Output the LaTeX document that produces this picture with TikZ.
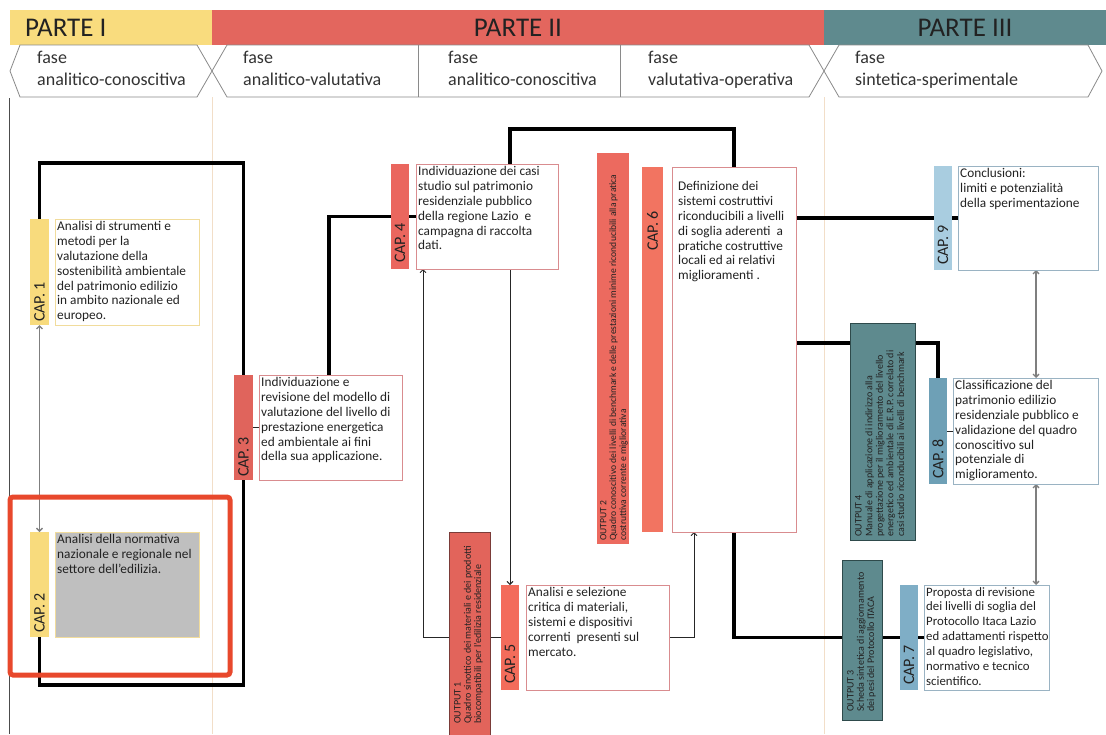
\documentclass[tikz,border=0pt]{standalone}
\usepackage{fontspec}
\setmainfont{Carlito}
\usetikzlibrary{arrows.meta}
\pgfdeclarelayer{bottom}
\pgfdeclarelayer{background}
\pgfsetlayers{bottom,background,main}
\definecolor{partey}{HTML}{F9DC7E}
\definecolor{parter}{HTML}{E3665E}
\definecolor{partet}{HTML}{5F8A8E}
\definecolor{capy}{HTML}{F8DB7D}
\definecolor{yborder}{HTML}{F1DC9C}
\definecolor{graybox}{HTML}{BFBFBF}
\definecolor{capthree}{HTML}{E0645C}
\definecolor{capfour}{HTML}{EA665E}
\definecolor{capfive}{HTML}{F36C5B}
\definecolor{capsix}{HTML}{F27461}
\definecolor{outtwo}{HTML}{EC6A5F}
\definecolor{outone}{HTML}{E2645B}
\definecolor{outoneb}{HTML}{7A3B38}
\definecolor{rborder}{HTML}{D98C8F}
\definecolor{capnine}{HTML}{A9CDE0}
\definecolor{capeight}{HTML}{6EA0B6}
\definecolor{capseven}{HTML}{7FAEC6}
\definecolor{bborder}{HTML}{9AB3C3}
\definecolor{outteal}{HTML}{5E8A8E}
\definecolor{outtealb}{HTML}{2E4A4B}
\definecolor{hexc}{HTML}{8A8A8A}
\definecolor{sepc}{HTML}{F2DEC8}
\definecolor{hl}{HTML}{E8482C}
\definecolor{txt}{HTML}{222222}
\definecolor{dblc}{HTML}{7F7F7F}
\begin{document}
\begin{tikzpicture}[x=1pt,y=-1pt,
  rect/.style={rectangle, inner sep=0pt, outer sep=0pt, anchor=north west},
  wh/.style 2 args={minimum width=#1pt, minimum height=#2pt},
  parttext/.style={font=\fontsize{27}{27}\selectfont, text=txt},
  phasetext/.style={anchor=north west, align=left, inner sep=0pt, font=\fontsize{18}{21.5}\selectfont, text=black!80},
  hex/.style={draw=hexc, line width=0.8pt, fill=white},
  sepline/.style={draw=sepc, line width=1pt},
  boxtext/.style={anchor=north west, align=left, inner sep=0pt, font=\fontsize{13.3}{14.9}\selectfont, text=txt},
  captext/.style={rotate=90, inner sep=0pt, font=\fontsize{16}{16}\selectfont, text=txt},
  outtext/.style={rotate=90, anchor=north west, align=left, inner sep=0pt, font=\fontsize{10}{10.2}\selectfont, text=txt},
  ybox/.style={rect, draw=yborder, line width=0.6pt, fill=white},
  rbox/.style={rect, draw=rborder, line width=0.8pt, fill=white},
  bbox/.style={rect, draw=bborder, line width=0.8pt, fill=white},
  thk/.style={line width=3.8pt, black},
  thn/.style={line width=0.9pt, black!85},
  arr/.style={-{Straight Barb[length=3pt,width=6pt]}},
  dbl/.style={draw=dblc, line width=1.3pt, {Straight Barb[length=3pt,width=6pt]}-{Straight Barb[length=3pt,width=6pt]}}
]
\useasboundingbox (0,0) rectangle (1106,734);
\begin{pgfonlayer}{bottom}
\fill[white] (0,0) rectangle (1106,734);
\end{pgfonlayer}

% ---------- header ----------
\node[rect, wh={202}{35}, fill=partey] (p1) at (10,10) {};
\node[parttext, anchor=west, inner sep=0pt] (p1t) at (25,28) {PARTE I};
\node[rect, wh={612}{35}, fill=parter, parttext] (p2) at (212,10) {PARTE II};
\node[rect, wh={282}{35}, fill=partet, parttext] (p3) at (824,10) {PARTE III};

\draw[hex] (10,71) -- (20,45) -- (197,45) -- (212,71) -- (197,97) -- (20,97) -- cycle;
\draw[hex] (212,71) -- (227,45) -- (809,45) -- (824,71) -- (809,97) -- (227,97) -- cycle;
\draw[hex] (824,71) -- (839,45) -- (1088,45) -- (1102,71) -- (1088,97) -- (839,97) -- cycle;
\draw[hexc, line width=0.8pt] (418,45) -- (418,97);
\draw[hexc, line width=0.8pt] (620,45) -- (620,97);

\node[phasetext] (ph1) at (37,51) {fase\\analitico-conoscitiva};
\node[phasetext] (ph2) at (243,51) {fase\\analitico-valutativa};
\node[phasetext] (ph3) at (448,51) {fase\\analitico-conoscitiva};
\node[phasetext] (ph4) at (648,51) {fase\\valutativa-operativa};
\node[phasetext] (ph5) at (855,51) {fase\\sintetica-sperimentale};

\begin{pgfonlayer}{bottom}
\draw[sepline] (212,97) -- (212,734);
\draw[sepline] (824,97) -- (824,734);
\draw[black!70, line width=0.6pt] (9,98) -- (9,734);
\end{pgfonlayer}

% ---------- helper coordinates ----------
\coordinate (lt) at (0,163);
\coordinate (lb) at (0,685);
\coordinate (h4) at (0,343);
\coordinate (va) at (1036,0);

% ---------- PARTE I ----------
\node[rect, wh={19}{106}, fill=capy] (cap1) at (30,219) {};
\node[ybox, wh={144}{106}] (cap1b) at (55,219) {};
\node[captext, anchor=west] (cap1l) at ([yshift=3pt]cap1.south) {CAP. 1};
\node[boxtext] (cap1t) at (57,221) {Analisi di strumenti e\\metodi per la\\valutazione della\\sostenibilità ambientale\\del patrimonio edilizio\\in ambito nazionale ed\\europeo.};

\node[rect, wh={19}{105}, fill=capy] (cap2) at (30,532) {};
\node[rect, draw=yborder, line width=0.6pt, fill=graybox, wh={144}{105}] (cap2b) at (55,532) {};
\node[captext, anchor=west] (cap2l) at ([yshift=4pt]cap2.south) {CAP. 2};
\node[boxtext] (cap2t) at (57,534) {Analisi della normativa\\nazionale e regionale nel\\settore dell'edilizia.};

% ---------- PARTE II ----------
\node[rect, wh={19}{105}, fill=capthree] (cap3) at (234,375) {};
\node[rbox, wh={143}{105}] (cap3b) at (259,375) {};
\node[captext, anchor=west] (cap3l) at ([yshift=3pt]cap3.south) {CAP. 3};
\node[boxtext] (cap3t) at (261,377) {Individuazione e\\revisione del modello di\\valutazione del livello di\\prestazione energetica\\ed ambientale ai fini\\della sua applicazione.};

\node[rect, wh={18}{105}, fill=capfour] (cap4) at (391,164) {};
\node[rbox, wh={142}{105}] (cap4b) at (416,164) {};
\node[captext, anchor=west] (cap4l) at ([yshift=6pt]cap4.south) {CAP. 4};
\node[boxtext] (cap4t) at (418,166) {Individuazione dei casi\\studio sul patrimonio\\residenziale pubblico\\della regione Lazio~ e\\campagna di raccolta\\dati.};

\node[rect, wh={32}{391}, fill=outtwo] (out2) at (597,153) {};
\node[outtext, font=\fontsize{9.6}{9.8}\selectfont] (out2t) at (600,541) {OUTPUT 2\\Quadro conoscitivo dei livelli di benchmark e delle prestazioni minime riconducibili alla pratica\\costruttiva corrente e migliorativa};

\node[rect, wh={21}{365}, fill=capsix] (cap6) at (642,167) {};
\node[rbox, wh={124}{365}] (cap6b) at (672,167) {};
\node[captext, anchor=east] (cap6l) at ([yshift=-44pt]cap6.north) {CAP. 6};
\node[boxtext] (cap6t) at (678,181) {Definizione dei\\sistemi costruttivi\\riconducibili a livelli\\di soglia aderenti~ a\\pratiche costruttive\\locali ed ai relativi\\miglioramenti .};

\node[rect, wh={41}{215}, fill=outone, draw=outoneb, line width=0.8pt] (out1) at (449,532) {};
\node[outtext] (out1t) at (454,724) {OUTPUT 1\\Quadro sinottico dei materiali e dei prodotti\\biocompatibili per l'edilizia residenziale};

\node[rect, wh={18}{105}, fill=capfive] (cap5) at (501,585) {};
\node[rbox, wh={143}{105}] (cap5b) at (526,585) {};
\node[captext, anchor=west] (cap5l) at ([yshift=6pt]cap5.south) {CAP. 5};
\node[boxtext] (cap5t) at (528,587) {Analisi e selezione\\critica di materiali,\\sistemi e dispositivi\\correnti~ presenti sul\\mercato.};

% ---------- PARTE III ----------
\node[rect, wh={18}{104}, fill=capnine] (cap9) at (934,166) {};
\node[bbox, wh={140}{104}] (cap9b) at (958,166) {};
\node[captext, anchor=west] (cap9l) at ([yshift=5pt]cap9.south) {CAP. 9};
\node[boxtext] (cap9t) at (960,168) {Conclusioni:\\limiti e potenzialità\\della sperimentazione};

\node[rect, wh={65}{217}, fill=outteal, draw=outtealb, line width=0.8pt] (out4) at (850,323) {};
\node[outtext, font=\fontsize{10}{10.6}\selectfont] (out4t) at (855,537) {OUTPUT 4\\Manuale di applicazione di indirizzo alla\\progettazione per il miglioramento del livello\\energetico ed ambientale di E.R.P. correlato di\\casi studio riconducibili ai livelli di benchmark};

\node[rect, wh={18}{106}, fill=capeight] (cap8) at (929,378) {};
\node[bbox, wh={145}{106}] (cap8b) at (953,378) {};
\node[captext, anchor=west] (cap8l) at ([yshift=5pt]cap8.south) {CAP. 8};
\node[boxtext] (cap8t) at (955,380) {Classificazione del\\patrimonio edilizio\\residenziale pubblico e\\validazione del quadro\\conoscitivo sul\\potenziale di\\miglioramento.};

\node[rect, wh={40}{160}, fill=outteal, draw=outtealb, line width=0.8pt] (out3) at (842,560) {};
\node[outtext] (out3t) at (847,712) {OUTPUT 3\\Scheda sintetica di aggiornamento\\dei pesi del Protocollo ITACA};

\node[rect, wh={18}{105}, fill=capseven] (cap7) at (900,585) {};
\node[bbox, wh={125}{105}] (cap7b) at (924,585) {};
\node[captext, anchor=west] (cap7l) at ([yshift=5pt]cap7.south) {CAP. 7};
\node[boxtext, font=\fontsize{12.8}{14.9}\selectfont] (cap7t) at (926,587) {Proposta di revisione\\dei livelli di soglia del\\Protocollo Itaca Lazio\\ed adattamenti rispetto\\al quadro legislativo,\\normativo e tecnico\\scientifico.};

% ---------- connectors ----------
\begin{pgfonlayer}{background}
\draw[thk] (cap1.north) -- (cap1.north |- lt) -- (lt -| cap3.north) -- (cap3.north);
\draw[thk] (cap3.south) -- (cap3.south |- lb) -- (lb -| cap2.south) -- (cap2.south);
\draw[thn] (cap3.east) -- (cap3b.west);
\draw[thk] ([xshift=70pt]cap3b.north west) |- (cap4.west);
\draw[thk] (cap4.east) -- (cap4b.west);
\draw[thk] ([xshift=94pt]cap4b.north west) -- ++(0,-35) -| ([xshift=62pt]cap6b.north west);
\draw[thk] (cap6b.east |- cap9.west) -- (cap9.west);
\draw[thk] (cap9.east) -- (cap9b.west);
\draw[thk] (cap6b.east |- h4) -- (out4.west |- h4);
\draw[thk] (out4.east |- h4) -| (cap8.north);
\draw[thn] (cap8.east) -- (cap8b.west);
\draw[thk] ([xshift=62pt]cap6b.south west) |- (out3.west |- cap7.west);
\draw[thk] (out3.east |- cap7.west) -- (cap7.west);
\draw[thk] (cap7.east) -- (cap7b.west);
\draw[thn, arr] (cap5.north |- cap4b.south) -- (cap5.north);
\draw[thn, arr] (cap5.west) -| ([xshift=7pt]cap4b.south west);
\draw[thn, arr] (cap5b.east) -| ([xshift=22pt]cap6b.south west);
\draw[dbl] (cap1.south) -- (cap2.north);
\draw[dbl] (cap9b.south -| va) -- (cap8b.north -| va);
\draw[dbl] (cap8b.south -| va) -- (cap7b.north -| va);
\end{pgfonlayer}

% ---------- highlight ----------
\node[rect, draw=hl, line width=5pt, rounded corners=3pt, wh={220}{178}] (hlbox) at (10,497) {};
\end{tikzpicture}
\end{document}
